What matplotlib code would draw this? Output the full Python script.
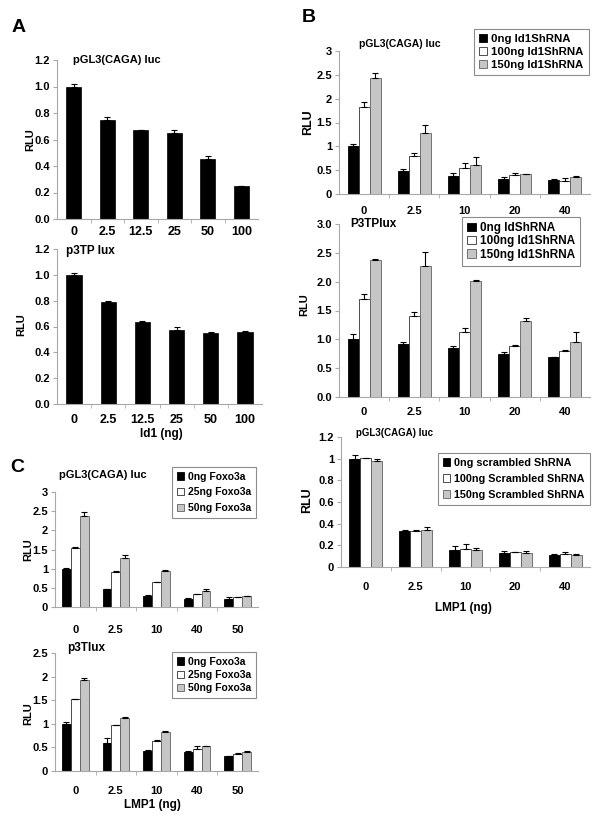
import numpy as np
import matplotlib
matplotlib.use("Agg")
import matplotlib.pyplot as plt

plt.rcParams['font.family'] = ['Liberation Sans', 'DejaVu Sans']
plt.rcParams['font.weight'] = 'bold'

# ---------------- data ----------------
a_cats = ["0", "2.5", "12.5", "25", "50", "100"]
a_top_vals = [1.0, 0.75, 0.67, 0.65, 0.45, 0.25]
a_top_err = [0.02, 0.02, 0.0, 0.02, 0.025, 0.0]
a_bot_vals = [1.0, 0.79, 0.635, 0.575, 0.55, 0.56]
a_bot_err = [0.015, 0.01, 0.005, 0.02, 0.005, 0.005]

b_cats = ["0", "2.5", "10", "20", "40"]
b1_s0 = [1.0, 0.48, 0.38, 0.32, 0.29]
b1_s1 = [1.83, 0.79, 0.55, 0.39, 0.28]
b1_s2 = [2.44, 1.27, 0.60, 0.41, 0.36]
b1_e0 = [0.05, 0.05, 0.07, 0.04, 0.03]
b1_e1 = [0.10, 0.07, 0.10, 0.05, 0.05]
b1_e2 = [0.10, 0.17, 0.18, 0.01, 0.02]

b2_s0 = [1.0, 0.92, 0.85, 0.75, 0.69]
b2_s1 = [1.70, 1.41, 1.12, 0.89, 0.80]
b2_s2 = [2.37, 2.27, 2.02, 1.31, 0.95]
b2_e0 = [0.10, 0.04, 0.03, 0.03, 0.01]
b2_e1 = [0.08, 0.07, 0.07, 0.01, 0.02]
b2_e2 = [0.02, 0.24, 0.01, 0.06, 0.18]

b3_s0 = [1.0, 0.33, 0.16, 0.13, 0.11]
b3_s1 = [1.01, 0.33, 0.17, 0.14, 0.12]
b3_s2 = [0.98, 0.34, 0.16, 0.13, 0.11]
b3_e0 = [0.03, 0.01, 0.03, 0.02, 0.01]
b3_e1 = [0.0, 0.01, 0.04, 0.0, 0.015]
b3_e2 = [0.02, 0.03, 0.02, 0.02, 0.01]

c_cats = ["0", "2.5", "10", "40", "50"]
c1_s0 = [1.0, 0.46, 0.29, 0.21, 0.21]
c1_s1 = [1.54, 0.92, 0.65, 0.33, 0.25]
c1_s2 = [2.38, 1.28, 0.94, 0.42, 0.28]
c1_e0 = [0.02, 0.0, 0.02, 0.02, 0.05]
c1_e1 = [0.03, 0.01, 0.01, 0.01, 0.0]
c1_e2 = [0.10, 0.07, 0.02, 0.05, 0.0]

c2_s0 = [1.0, 0.60, 0.42, 0.40, 0.31]
c2_s1 = [1.52, 0.98, 0.63, 0.47, 0.37]
c2_s2 = [1.93, 1.12, 0.82, 0.52, 0.40]
c2_e0 = [0.03, 0.10, 0.03, 0.02, 0.0]
c2_e1 = [0.01, 0.0, 0.02, 0.05, 0.02]
c2_e2 = [0.03, 0.02, 0.02, 0.02, 0.03]

b1_labels = ["0ng Id1ShRNA", "100ng Id1ShRNA", "150ng Id1ShRNA"]
b2_labels = ["0ng IdShRNA", "100ng Id1ShRNA", "150ng Id1ShRNA"]
b3_labels = ["0ng scrambled ShRNA", "100ng Scrambled ShRNA", "150ng Scrambled ShRNA"]
c_labels = ["0ng Foxo3a", "25ng Foxo3a", "50ng Foxo3a"]

a_yticks = [0.0, 0.2, 0.4, 0.6, 0.8, 1.0, 1.2]
a_yticklabels = ["0.0", "0.2", "0.4", "0.6", "0.8", "1.0", "1.2"]
b1_yticks = [0, 0.5, 1, 1.5, 2, 2.5, 3]
b1_yticklabels = ["0", "0.5", "1", "1.5", "2", "2.5", "3"]
b2_yticklabels = ["0.0", "0.5", "1.0", "1.5", "2.0", "2.5", "3.0"]
b3_yticks = [0, 0.2, 0.4, 0.6, 0.8, 1.0, 1.2]
b3_yticklabels = ["0", "0.2", "0.4", "0.6", "0.8", "1", "1.2"]
c2_yticks = [0, 0.5, 1, 1.5, 2, 2.5]
c2_yticklabels = ["0", "0.5", "1", "1.5", "2", "2.5"]

W, H = 600, 819
fig = plt.figure(figsize=(W / 100, H / 100), dpi=100)
AX_COL = '#a8a8a8'
COLORS = ['black', 'white', '#c6c6c6']
EDGES = ['black', '#303030', '#606060']


def make_ax(x0, y0, x1, y1):
    return fig.add_axes([x0 / W, 1 - y1 / H, (x1 - x0) / W, (y1 - y0) / H])


def style(ax, n, yticks, ylabels, ymax, ylfs=8, xpad=5):
    ax.set_xlim(-0.5, n - 0.5)
    ax.set_ylim(0, ymax)
    for s in ['top', 'right']:
        ax.spines[s].set_visible(False)
    for s in ['left', 'bottom']:
        ax.spines[s].set_color(AX_COL)
        ax.spines[s].set_linewidth(0.8)
    ax.set_yticks(yticks)
    ax.set_yticklabels(ylabels, fontsize=ylfs, fontweight='bold')
    ax.tick_params(axis='y', length=3, color=AX_COL, pad=2)
    ax.tick_params(axis='x', which='major', length=0, pad=xpad)
    ax.set_xticks(np.arange(n - 1) + 0.5, minor=True)
    ax.tick_params(axis='x', which='minor', length=3, color=AX_COL)


def single(ax, cats, vals, errs):
    x = np.arange(len(cats))
    ax.bar(x, vals, width=0.45, color='black', edgecolor='black', linewidth=0.5, zorder=2)
    ax.errorbar(x, vals, yerr=[np.zeros(len(vals)), errs], fmt='none',
                ecolor='black', elinewidth=0.8, capsize=2.2, capthick=0.8, zorder=3)


def grouped(ax, cats, series, errs, labels, w=0.22):
    x = np.arange(len(cats))
    handles = []
    for i, (vals, er) in enumerate(zip(series, errs)):
        xs = x + (i - 1) * w
        b = ax.bar(xs, vals, width=w, color=COLORS[i], edgecolor=EDGES[i],
                   linewidth=0.6, zorder=2, label=labels[i])
        ax.errorbar(xs, vals, yerr=[np.zeros(len(vals)), er], fmt='none',
                    ecolor='black', elinewidth=0.8, capsize=2, capthick=0.8, zorder=3)
        handles.append(b)
    return handles


def legend(ax, handles, labels, x, y, fs=8, spacing=0.25):
    leg = ax.legend(handles, labels, loc='upper left',
                    bbox_to_anchor=(x / W, 1 - y / H), bbox_transform=fig.transFigure,
                    borderaxespad=0, fancybox=False, frameon=True,
                    handlelength=0.7, handleheight=0.7, handletextpad=0.35,
                    labelspacing=spacing, borderpad=0.45, prop={'weight': 'bold', 'size': fs})
    leg.get_frame().set_edgecolor('#707070')
    leg.get_frame().set_linewidth(0.8)
    return leg


def ftext(x, y, s, fs=7.5, ha='left', rot=0):
    fig.text(x / W, 1 - y / H, s, fontsize=fs, fontweight='bold', ha=ha, va='center', rotation=rot)


# ---------------- Panel A ----------------
ax = make_ax(57, 60, 258, 219)
single(ax, a_cats, a_top_vals, a_top_err)
style(ax, 6, a_yticks, a_yticklabels, 1.2, xpad=5)
ax.set_xticks(np.arange(6))
ax.set_xticklabels(a_cats, fontsize=9, fontweight='bold')
ftext(73, 60, "pGL3(CAGA) luc", fs=8)
ftext(30, 140, "RLU", fs=8, rot=90, ha='center')

ax = make_ax(57, 249, 262, 404)
single(ax, a_cats, a_bot_vals, a_bot_err)
style(ax, 6, a_yticks, a_yticklabels, 1.2, xpad=7)
ax.set_xticks(np.arange(6))
ax.set_xticklabels(a_cats, fontsize=9, fontweight='bold')
ftext(66, 251, "p3TP lux", fs=8.5)
ftext(21, 325, "RLU", fs=8, rot=90, ha='center')
ftext(140, 434, "Id1 (ng)", fs=8.5)

# ---------------- Panel B ----------------
ax = make_ax(339, 51, 590, 194)
h = grouped(ax, b_cats, [b1_s0, b1_s1, b1_s2], [b1_e0, b1_e1, b1_e2], b1_labels)
style(ax, 5, b1_yticks, b1_yticklabels, 3, xpad=9)
ax.set_xticks(np.arange(5))
ax.set_xticklabels(b_cats, fontsize=8, fontweight='bold')
legend(ax, h, b1_labels, 474, 29, fs=8.2)
ftext(400, 44, "pGL3(CAGA) luc", ha='center')
ftext(308, 122, "RLU", fs=9, rot=90, ha='center')

ax = make_ax(339, 224, 590, 397)
h = grouped(ax, b_cats, [b2_s0, b2_s1, b2_s2], [b2_e0, b2_e1, b2_e2], b2_labels)
style(ax, 5, b1_yticks, b2_yticklabels, 3, xpad=7)
ax.set_xticks(np.arange(5))
ax.set_xticklabels(b_cats, fontsize=8, fontweight='bold')
legend(ax, h, b2_labels, 462, 217, fs=8.5, spacing=0.1)
ftext(350, 224, "P3TPlux", fs=8.5)
ftext(304, 305, "RLU", fs=8, rot=90, ha='center')

ax = make_ax(341, 437, 590, 567)
h = grouped(ax, b_cats, [b3_s0, b3_s1, b3_s2], [b3_e0, b3_e1, b3_e2], b3_labels)
style(ax, 5, b3_yticks, b3_yticklabels, 1.2, xpad=11)
ax.set_xticks(np.arange(5))
ax.set_xticklabels(b_cats, fontsize=8, fontweight='bold')
legend(ax, h, b3_labels, 438, 453, fs=7.8, spacing=0.55)
ftext(395, 433, "pGL3(CAGA) luc", fs=7, ha='center')
ftext(307, 500, "RLU", fs=9, rot=90, ha='center')
ftext(463, 608, "LMP1 (ng)", fs=8.5, ha='center')

# ---------------- Panel C ----------------
ax = make_ax(55, 492, 258, 607)
h = grouped(ax, c_cats, [c1_s0, c1_s1, c1_s2], [c1_e0, c1_e1, c1_e2], c_labels)
style(ax, 5, b1_yticks, b1_yticklabels, 3, xpad=13)
ax.set_xticks(np.arange(5))
ax.set_xticklabels(c_cats, fontsize=8, fontweight='bold')
legend(ax, h, c_labels, 172, 467, fs=7.5, spacing=0.55)
ftext(103, 475, "pGL3(CAGA) luc", fs=8, ha='center')
ftext(28, 550, "RLU", fs=8, rot=90, ha='center')

ax = make_ax(55, 653, 258, 771)
h = grouped(ax, c_cats, [c2_s0, c2_s1, c2_s2], [c2_e0, c2_e1, c2_e2], c_labels)
style(ax, 5, c2_yticks, c2_yticklabels, 2.5, xpad=11)
ax.set_xticks(np.arange(5))
ax.set_xticklabels(c_cats, fontsize=8, fontweight='bold')
legend(ax, h, c_labels, 172, 652, fs=7.5, spacing=0.3)
ftext(67, 648, "p3Tlux", fs=8.5)
ftext(28, 714, "RLU", fs=8, rot=90, ha='center')
ftext(152, 805, "LMP1 (ng)", fs=8.5, ha='center')

# panel letters
ftext(12, 27, "A", fs=14)
ftext(302, 18, "B", fs=14)
ftext(10, 468, "C", fs=14)

fig.savefig("out.png", dpi=100)
